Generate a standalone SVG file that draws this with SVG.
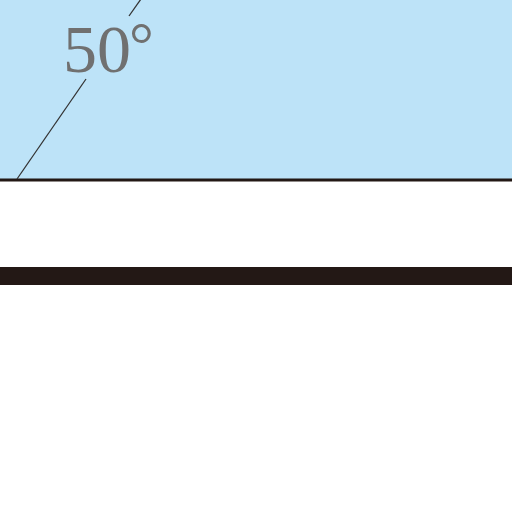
<svg xmlns="http://www.w3.org/2000/svg" width="512" height="512" viewBox="0 0 512 512">
<style>
.ang{stroke:#333;stroke-width:1.3;fill:none}
</style>
<rect x="0" y="0" width="512" height="512" fill="#ffffff"/>
<g id="water">
<rect x="0" y="0" width="512" height="180" fill="#bde3f8"/>
</g>
<g id="surface">
<line x1="0" y1="180" x2="512" y2="180" stroke="#231815" stroke-width="3"/>
</g>
<g id="bar">
<rect x="0" y="267" width="512" height="18" fill="#231815"/>
</g>
<g id="connectors">
<line class="ang" x1="17" y1="179" x2="86" y2="79"/>
<line class="ang" x1="129" y1="16" x2="141" y2="-1"/>
</g>
<g id="label">
<text x="63" y="72" font-family="Liberation Serif, serif" font-size="68" fill="#707070">50<tspan x="129" dy="-7" font-size="62">°</tspan></text>
</g>
</svg>
